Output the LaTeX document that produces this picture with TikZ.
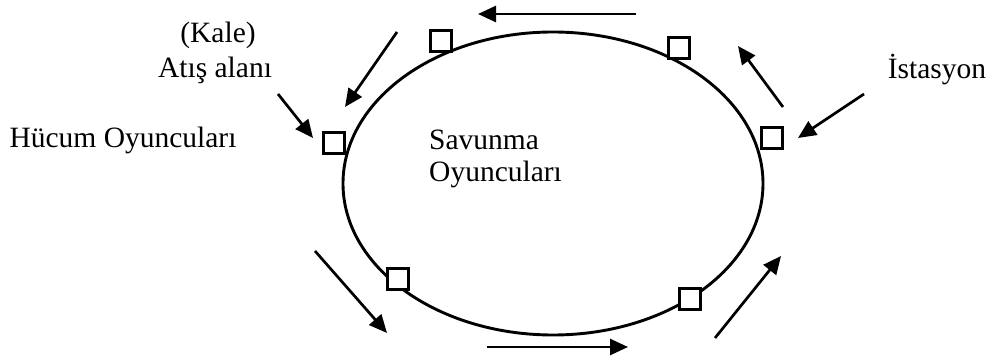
\documentclass[tikz,border=0pt]{standalone}
\usepackage{fontspec}
\setmainfont{Liberation Serif}
\usetikzlibrary{arrows.meta}
\begin{document}
\begin{tikzpicture}[x=1pt,y=-1pt,
  sq/.style={draw,fill=white,line width=2.6pt,minimum size=21pt,inner sep=0pt},
  arr/.style={line width=2.7pt,-{Triangle[length=18pt,width=16pt]}},
  lbl/.style={font=\fontsize{29.5}{34}\selectfont,inner sep=0pt,anchor=base}]
\useasboundingbox (0,0) rectangle (994,363);
\draw[line width=2.9pt] (553,183.5) ellipse [x radius=210, y radius=151.5];
\node[sq] (s1) at (441,41) {};
\node[sq] (s2) at (679,48) {};
\node[sq] (s3) at (334,143) {};
\node[sq] (s4) at (772,138) {};
\node[sq] (s5) at (398,279) {};
\node[sq] (s6) at (690,299) {};
\node[lbl] (kale) at (218,43) {(Kale)};
\node[lbl] (atis) at (215,78) {Atış alanı};
\node[lbl] (hucum) at (123,148) {Hücum Oyuncuları};
\node[lbl] (ist) at (937,79) {İstasyon};
\node[lbl,anchor=base west] (sav) at (429,150) {Savunma};
\node[lbl,anchor=base west] (oyun) at (429,182) {Oyuncuları};
\coordinate (a1s) at (636,14); \coordinate (a1e) at (478,14);
\coordinate (a2s) at (397,32); \coordinate (a2e) at (345,107);
\coordinate (a3s) at (278,94); \coordinate (a3e) at (313,138);
\coordinate (a4s) at (783,107); \coordinate (a4e) at (738,46);
\coordinate (a5s) at (864,94); \coordinate (a5e) at (798,138);
\coordinate (a6s) at (315,251); \coordinate (a6e) at (387,333);
\coordinate (a7s) at (487,347); \coordinate (a7e) at (628,347);
\coordinate (a8s) at (715,338); \coordinate (a8e) at (781,256);
\foreach \i in {1,...,8} \draw[arr] (a\i s) -- (a\i e);
\end{tikzpicture}
\end{document}
